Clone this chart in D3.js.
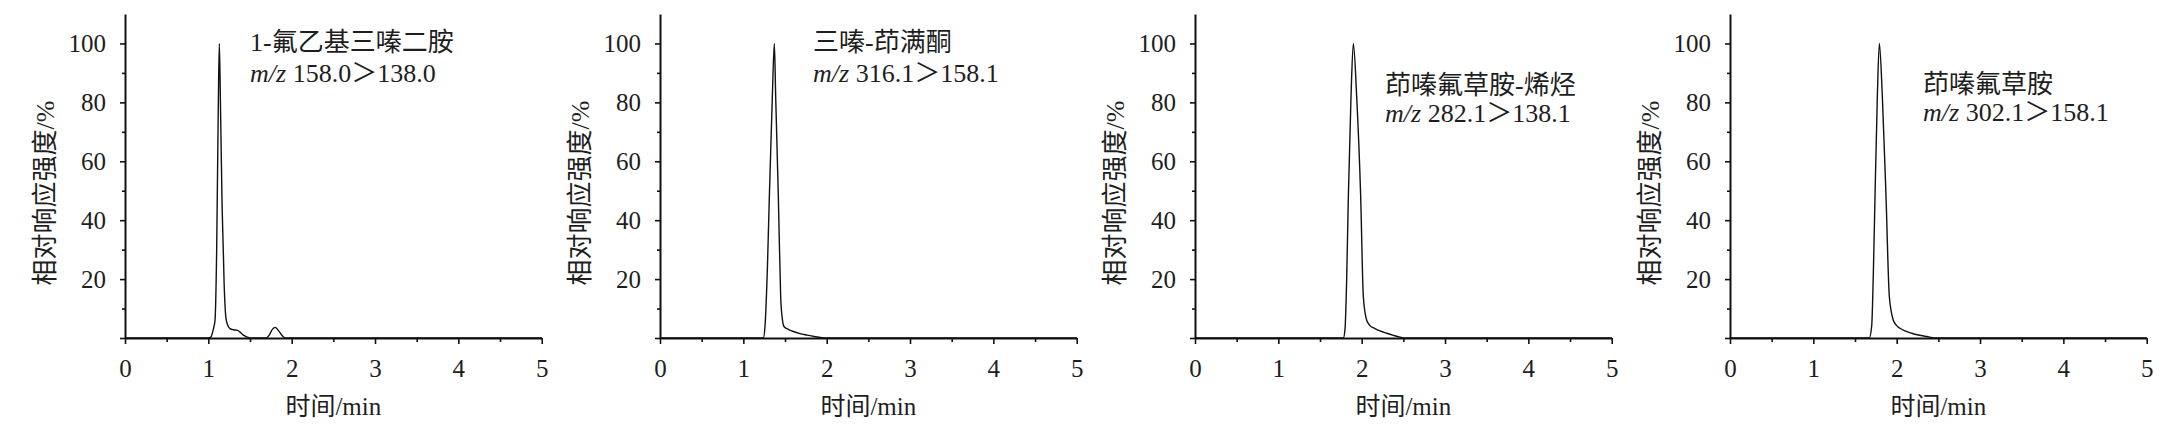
<!DOCTYPE html>
<html><head><meta charset="utf-8">
<script src="https://cdn.jsdelivr.net/npm/d3@7/dist/d3.min.js"></script>
<style>
body{margin:0;background:#fff}
svg{display:block}
text{fill:#1e1e1e;font-family:"Liberation Serif","Noto Sans CJK SC",serif}
</style>
</head><body><svg id="c" width="2184" height="447"></svg>
<script>
// ---- data ----
const compounds = ["1-氟乙基三嗪二胺", "三嗪-茚满酮", "茚嗪氟草胺-烯烃", "茚嗪氟草胺"];
const transitions = ["158.0＞138.0", "316.1＞158.1", "282.1＞138.1", "302.1＞158.1"];
const xTickValues = [0, 1, 2, 3, 4, 5];
const xMinorTickValues = [0.5, 1.5, 2.5, 3.5, 4.5];
const yTickValues = [0, 20, 40, 60, 80, 100];
const yMinorTickValues = [10, 30, 50, 70, 90];
const xTitle = "时间/min";
const yTitle = "相对响应强度/%";

// chromatograms: [time (min), relative intensity (%)]
const series1 = [[0,0],[1.0,0],[1.03,0.3],[1.06,3],[1.08,6],[1.10,30],[1.12,80],[1.132,100],[1.145,80],[1.165,45],[1.19,18],[1.21,7],[1.23,4.5],[1.26,3.2],[1.30,2.8],[1.35,2.6],[1.38,2.0],[1.42,1.0],[1.46,0.4],[1.50,0],[1.70,0],[1.73,1.0],[1.77,3.0],[1.80,3.6],[1.84,2.6],[1.88,1.0],[1.92,0],[5,0]];
const series2 = [[0,0],[1.24,0],[1.26,4],[1.29,25],[1.312,48],[1.348,82],[1.372,100],[1.388,82],[1.42,48],[1.448,14],[1.47,6],[1.49,3.8],[1.55,2.8],[1.60,2.2],[1.68,1.5],[1.76,1.0],[1.85,0.5],[2.0,0],[5,0]];
const series3 = [[0,0],[1.78,0],[1.80,3],[1.82,20],[1.84,48],[1.872,82],[1.90,100],[1.94,82],[1.988,48],[2.02,14],[2.06,6],[2.10,4.2],[2.16,3.2],[2.22,2.4],[2.30,1.6],[2.38,0.9],[2.46,0.3],[2.52,0],[5,0]];
const series4 = [[0,0],[1.67,0],[1.70,4],[1.72,22],[1.74,48],[1.768,82],[1.792,100],[1.828,82],[1.872,48],[1.912,14],[1.96,6],[2.00,4.2],[2.04,3.3],[2.10,2.4],[2.18,1.6],[2.26,1.0],[2.36,0.5],[2.48,0],[5,0]];
const allSeries = [series1, series2, series3, series4];

// ---- layout ----
const firstLeft = 125, panelStep = 535, plotW = 416.7;
const yTop = 14, yBottom = 338;
const labelLayout = [{dx:125, y:51, gap:31}, {dx:153, y:51, gap:31}, {dx:190, y:94, gap:28}, {dx:193, y:93, gap:28}];
const fs = 25;

const svg = d3.select("#c");
const y = d3.scaleLinear().domain([0, 110]).range([yBottom, yTop]);

allSeries.forEach((data, i) => {
  const left = firstLeft + panelStep * i;
  const x = d3.scaleLinear().domain([0, 5]).range([left, left + plotW]);
  const g = svg.append("g");

  // x axis
  const xa = g.append("g").attr("transform", `translate(0,${yBottom})`)
    .call(d3.axisBottom(x).tickValues(xTickValues).tickSize(6).tickSizeOuter(0).tickFormat(d3.format("d")));
  xa.selectAll("text").attr("y", 39).attr("dy", 0).style("font-size", fs + "px");
  g.append("g").attr("transform", `translate(0,${yBottom})`)
    .call(d3.axisBottom(x).tickValues(xMinorTickValues).tickSize(4).tickSizeOuter(0).tickFormat(""))
    .select(".domain").remove();

  // y axis
  const ya = g.append("g").attr("transform", `translate(${left},0)`)
    .call(d3.axisLeft(y).tickValues(yTickValues).tickSize(5).tickPadding(14).tickSizeOuter(0)
      .tickFormat(d => d === 0 ? "" : d));
  ya.selectAll("text").style("font-size", fs + "px");
  g.append("g").attr("transform", `translate(${left},0)`)
    .call(d3.axisLeft(y).tickValues(yMinorTickValues).tickSize(3).tickSizeOuter(0).tickFormat(""))
    .select(".domain").remove();

  g.selectAll(".domain").attr("stroke", "#111").attr("stroke-width", 2);
  g.selectAll(".tick line").attr("stroke", "#111").attr("stroke-width", 1.6);
  g.selectAll(".tick text").attr("fill", "#1e1e1e").attr("font-family", null);

  // trace
  g.append("path").datum(data)
    .attr("fill", "none").attr("stroke", "#111").attr("stroke-width", 1.4)
    .attr("stroke-linejoin", "round")
    .attr("d", d3.line().x(d => x(d[0])).y(d => y(d[1])).curve(d3.curveMonotoneX));

  // titles
  g.append("text").attr("x", left + plotW / 2).attr("y", 415)
    .attr("text-anchor", "middle").style("font-size", fs + "px").text(xTitle);
  g.append("text").attr("transform", `translate(${left - 80},193) rotate(-90)`)
    .attr("text-anchor", "middle").attr("dominant-baseline", "central")
    .style("font-size", "26px").text(yTitle);

  // annotation
  const L = labelLayout[i];
  g.append("text").attr("x", left + L.dx).attr("y", L.y).style("font-size", "26px").text(compounds[i]);
  const t2 = g.append("text").attr("x", left + L.dx).attr("y", L.y + L.gap).style("font-size", "26px");
  t2.append("tspan").style("font-style", "italic").text("m/z");
  t2.append("tspan").text(" " + transitions[i]);
});
</script>
</body></html>
